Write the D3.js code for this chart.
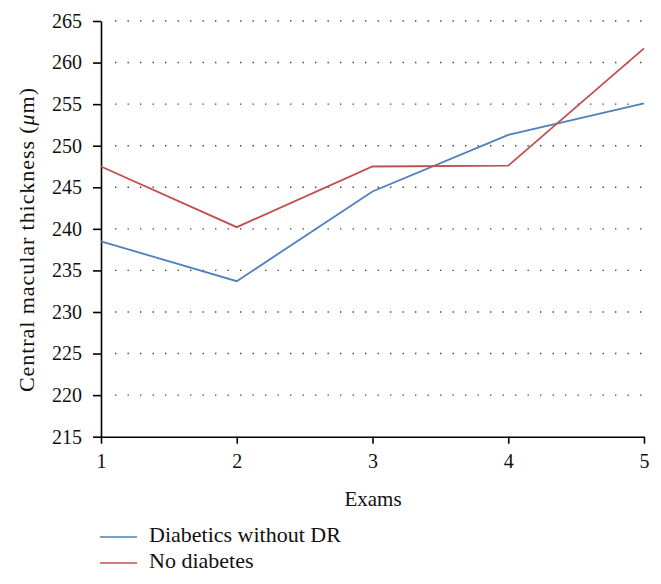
<!DOCTYPE html>
<html><head><meta charset="utf-8">
<script src="https://cdn.jsdelivr.net/npm/d3@7"></script>
</head><body style="margin:0">
<script>
const exams = [1, 2, 3, 4, 5];
const diabeticsNoDR = [238.5, 233.7, 244.5, 251.3, 255.1];
const noDiabetes = [247.5, 240.2, 247.5, 247.6, 261.7];
const yTicks = [215, 220, 225, 230, 235, 240, 245, 250, 255, 260, 265];
const seriesNames = ["Diabetics without DR", "No diabetes"];
const colors = ["#4f7fbd", "#c0504d"];

const W = 661, H = 584;
const FONT = '"Liberation Serif", "Times New Roman", serif';
const svg = d3.select("body").append("svg").attr("width", W).attr("height", H)
  .style("display", "block").style("font-family", FONT);
const x = d3.scaleLinear().domain([1, 5]).range([101, 644]);
const y = d3.scaleLinear().domain([215, 265]).range([436.7, 21]);

// grid
svg.append("g").selectAll("line").data(yTicks.filter(t => t > 215)).join("line")
  .attr("x1", x(1) + 14).attr("x2", x(5)).attr("y1", d => y(d)).attr("y2", d => y(d))
  .attr("stroke", "#444").attr("stroke-width", 1.4).attr("stroke-dasharray", "1.4,11.1");

const yAxis = svg.append("g").attr("transform", `translate(${x(1)},0)`)
  .call(d3.axisLeft(y).tickValues(yTicks).tickSize(8).tickPadding(11).tickSizeOuter(0));
const xAxis = svg.append("g").attr("transform", `translate(0,${y(215)})`)
  .call(d3.axisBottom(x).tickValues(exams).tickSize(7).tickPadding(10).tickSizeOuter(0).tickFormat(d3.format("d")));
[yAxis, xAxis].forEach(a => {
  a.attr("font-family", FONT).attr("font-size", 20);
  a.selectAll("path,line").attr("stroke", "#000").attr("stroke-width", 1.6);
  a.selectAll("text").style("font-family", FONT).style("font-size", "20px").attr("fill", "#111");
});

const line = d3.line().x((d, i) => x(exams[i])).y(d => y(d));
[diabeticsNoDR, noDiabetes].forEach((s, k) => {
  svg.append("path").datum(s).attr("d", line).attr("fill", "none")
    .attr("stroke", colors[k]).attr("stroke-width", 1.8);
});

// axis titles
svg.append("text").attr("x", 373).attr("y", 506).attr("text-anchor", "middle")
  .style("font-family", FONT).style("font-size", "21px").attr("fill", "#111").text("Exams");
const yt = svg.append("text").attr("transform", `translate(34,240) rotate(-90)`)
  .attr("text-anchor", "middle").style("font-family", FONT).style("font-size", "22px").attr("fill", "#111")
  .attr("textLength", 304).attr("lengthAdjust", "spacing");
yt.append("tspan").text("Central macular thickness (");
yt.append("tspan").style("font-style", "italic").text("μ");
yt.append("tspan").text("m)");

// legend
const lg = svg.append("g").selectAll("g").data(seriesNames).join("g")
  .attr("transform", (d, i) => `translate(100,${537 + i * 26})`);
lg.append("line").attr("x1", 0).attr("x2", 37).attr("stroke", (d, i) => colors[i]).attr("stroke-width", 1.5);
lg.append("text").attr("x", 49).attr("y", 5).style("font-family", FONT).style("font-size", "22px")
  .attr("fill", "#111").text(d => d);
</script>
</body></html>
